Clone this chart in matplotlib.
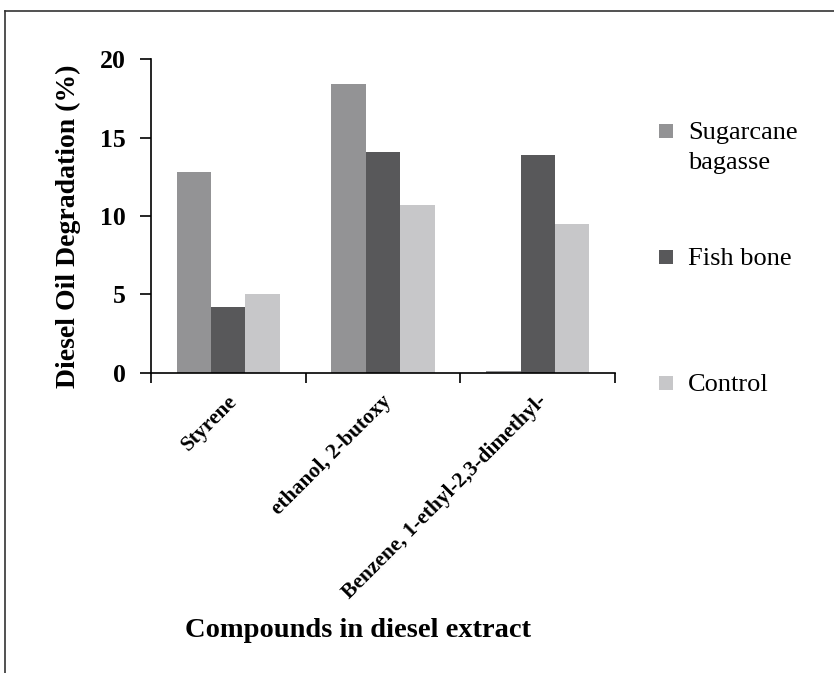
import numpy as np
import matplotlib.pyplot as plt
from matplotlib.patches import Rectangle

plt.rcParams['font.family'] = ['Liberation Serif', 'DejaVu Serif']

# Datos
compuestos = ["Styrene", "ethanol, 2-butoxy", "Benzene, 1-ethyl-2,3-dimethyl-"]
series = ["Sugarcane\nbagasse", "Fish bone", "Control"]
bagazo = [12.8, 18.4, 0.1]
hueso_pez = [4.2, 14.1, 13.9]
control = [5.0, 10.7, 9.5]
colores = ["#939395", "#58585a", "#c7c7c9"]

fig = plt.figure(figsize=(8.34, 6.73), dpi=100)
ax = fig.add_axes([0.181, 0.4458, 0.5565, 0.4665])

x = np.arange(len(compuestos))
ancho = 0.222
for i, (vals, col) in enumerate(zip([bagazo, hueso_pez, control], colores)):
    ax.bar(x + (i - 1) * ancho, vals, width=ancho, color=col, edgecolor='none')

ax.set_xlim(-0.5, len(compuestos) - 0.5)
ax.set_ylim(0, 20)
ax.set_yticks([0, 5, 10, 15, 20])
ax.tick_params(axis='y', direction='out', length=8, width=1.2, labelsize=18.5, pad=10)
for lbl in ax.get_yticklabels():
    lbl.set_fontweight('bold')

# ticks del eje x en los límites entre categorías
ax.set_xticks(np.arange(-0.5, len(compuestos)))
ax.set_xticklabels([])
ax.tick_params(axis='x', direction='out', length=7, width=1.2)
for xi, nombre in zip(x, compuestos):
    ax.annotate(nombre, xy=(xi, 0), xycoords=('data', 'axes fraction'),
                xytext=(-1, -13), textcoords='offset points',
                rotation=45, ha='right', va='top', rotation_mode='anchor',
                fontsize=15.5, fontweight='bold')

for s in ['top', 'right']:
    ax.spines[s].set_visible(False)
for s in ['left', 'bottom']:
    ax.spines[s].set_linewidth(1.2)

fig.text(0.082, 1 - 226 / 673, "Diesel Oil Degradation (%)", rotation=90,
         ha='center', va='center', fontsize=20, fontweight='bold')
fig.text(185 / 834, 1 - 637 / 673, "Compounds in diesel extract",
         ha='left', va='baseline', fontsize=20.5, fontweight='bold')

# leyenda manual
ys = [1 - 131 / 673, 1 - 257 / 673, 1 - 383 / 673]
for nombre, col, yy in zip(series, colores, ys):
    fig.add_artist(Rectangle((0.790, yy - 0.0105), 0.0168, 0.0208,
                             transform=fig.transFigure, color=col, lw=0))
    fig.text(0.825, yy + 9 / 673, nombre, ha='left', va='top', fontsize=19,
             linespacing=1.45)

# marco de la figura (superior e izquierdo)
fig.add_artist(plt.Line2D([0.006, 1.0], [1 - 11 / 673] * 2, color='#333333', lw=1.2))
fig.add_artist(plt.Line2D([0.006, 0.006], [1 - 11 / 673, 0.0], color='#333333', lw=1.2))

fig.savefig("out.png", dpi=100)
